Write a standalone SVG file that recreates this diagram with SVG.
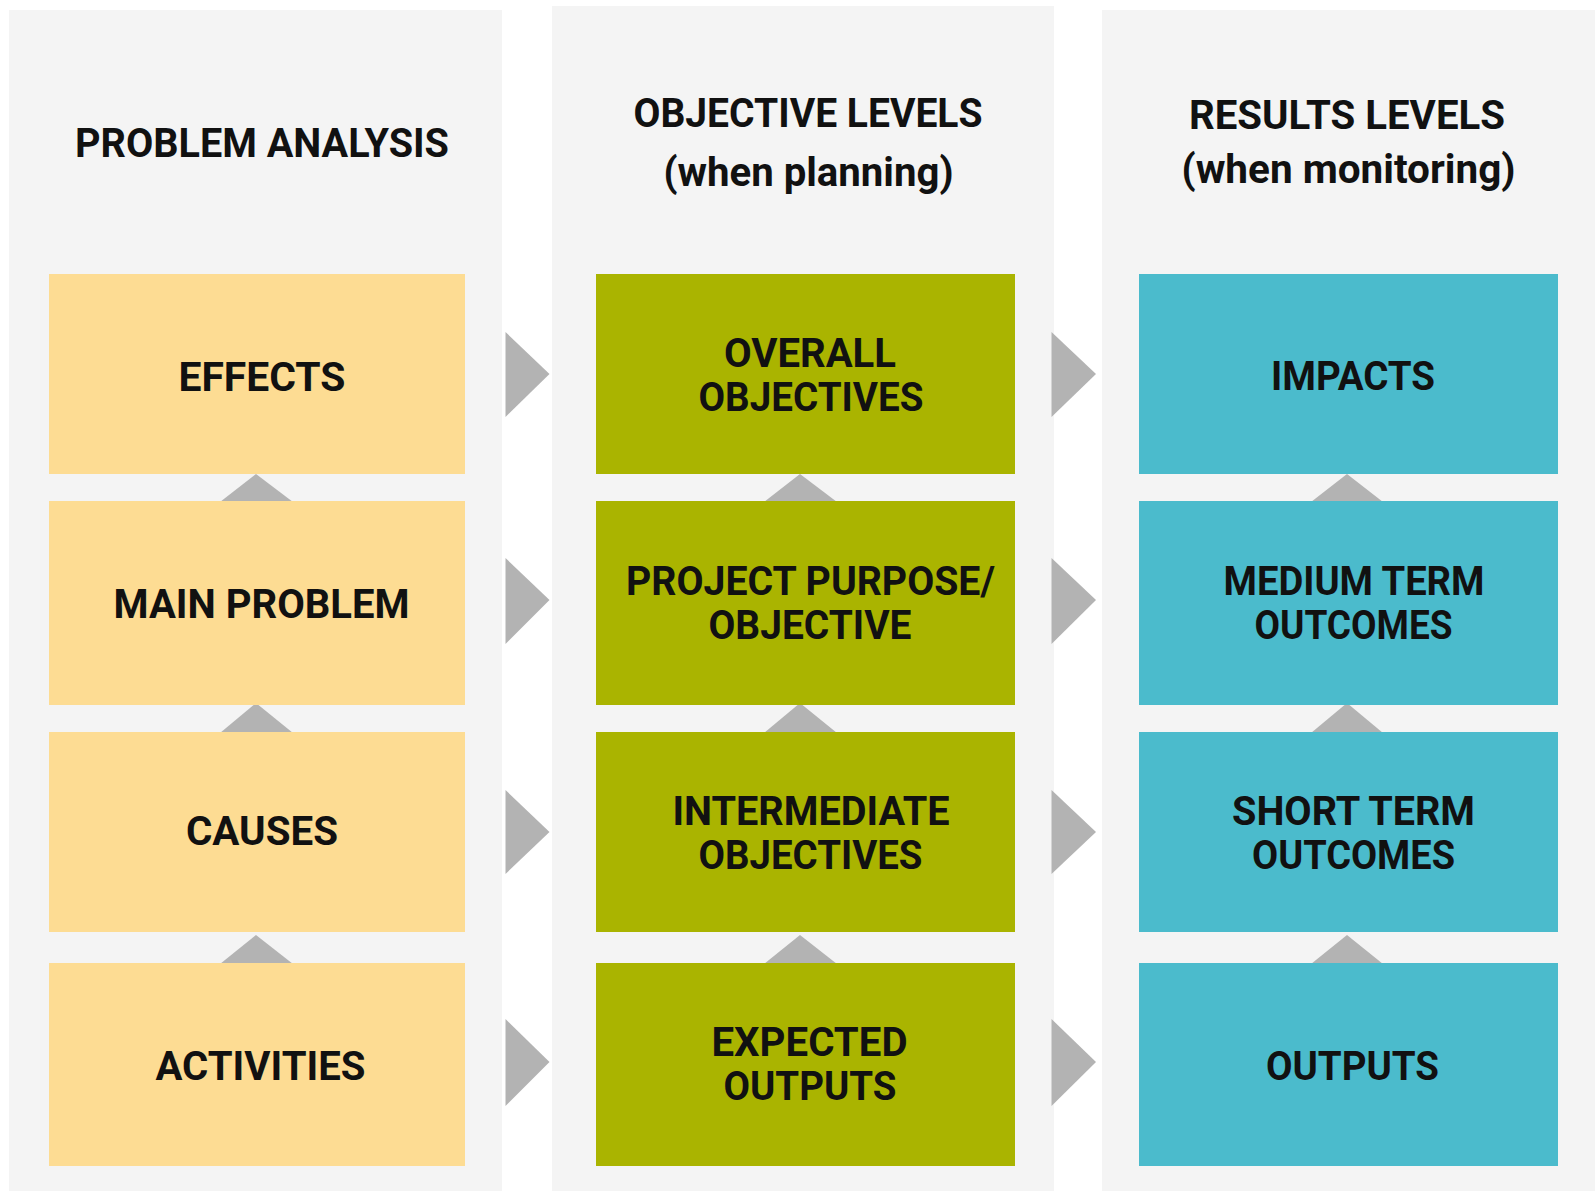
<svg xmlns="http://www.w3.org/2000/svg" width="1595" height="1191" viewBox="0 0 1595 1191">
<style>
.panel{fill:#f4f4f4}
.y{fill:#fddc93}
.g{fill:#aab400}
.c{fill:#4bbbcc}
.arr{fill:#b3b3b3}
text{font-family:Roboto,"Liberation Sans",sans-serif;font-weight:700;font-size:41px;fill:#111;text-anchor:middle}
</style>
<rect width="1595" height="1191" fill="#ffffff"/>
<g id="panels">
<rect class="panel" x="9" y="10" width="493" height="1181"/>
<rect class="panel" x="552" y="6" width="502" height="1185"/>
<rect class="panel" x="1102" y="10" width="493" height="1181"/>
</g>
<g id="headers">
<text x="262" y="157" textLength="374" lengthAdjust="spacingAndGlyphs">PROBLEM ANALYSIS</text>
<text x="808" y="127" textLength="349" lengthAdjust="spacingAndGlyphs">OBJECTIVE LEVELS</text>
<text x="808.5" y="186" textLength="290" lengthAdjust="spacingAndGlyphs">(when planning)</text>
<text x="1347" y="129" textLength="316" lengthAdjust="spacingAndGlyphs">RESULTS LEVELS</text>
<text x="1348.5" y="183" textLength="334" lengthAdjust="spacingAndGlyphs">(when monitoring)</text>
</g>
<g id="connectors">
<polygon class="arr" points="505.5,332 549.5,374 505.5,417"/>
<polygon class="arr" points="505.5,558 549.5,600 505.5,644"/>
<polygon class="arr" points="505.5,790 549.5,832 505.5,874"/>
<polygon class="arr" points="505.5,1019 549.5,1062 505.5,1106"/>
<polygon class="arr" points="1051.5,332 1096,374 1051.5,417"/>
<polygon class="arr" points="1051.5,558 1096,600 1051.5,644"/>
<polygon class="arr" points="1051.5,790 1096,832 1051.5,874"/>
<polygon class="arr" points="1051.5,1019 1096,1062 1051.5,1106"/>
<polygon class="arr" points="220,502 256,474 293,502"/>
<polygon class="arr" points="220,733 256,703 293,733"/>
<polygon class="arr" points="220,964 256,935 293,964"/>
<polygon class="arr" points="764,502 800,474 837,502"/>
<polygon class="arr" points="764,733 800,703 837,733"/>
<polygon class="arr" points="764,964 800,935 837,964"/>
<polygon class="arr" points="1311,502 1347,474 1383,502"/>
<polygon class="arr" points="1311,733 1347,703 1383,733"/>
<polygon class="arr" points="1311,964 1347,935 1383,964"/>
</g>
<g id="effects"><rect class="y" x="49" y="274" width="416" height="200"/><text x="262" y="390.5" textLength="167" lengthAdjust="spacingAndGlyphs">EFFECTS</text></g>
<g id="main-problem"><rect class="y" x="49" y="501" width="416" height="204"/><text x="261.5" y="617.5" textLength="296" lengthAdjust="spacingAndGlyphs">MAIN PROBLEM</text></g>
<g id="causes"><rect class="y" x="49" y="732" width="416" height="200"/><text x="262" y="845" textLength="152" lengthAdjust="spacingAndGlyphs">CAUSES</text></g>
<g id="activities"><rect class="y" x="49" y="963" width="416" height="203"/><text x="260.5" y="1080" textLength="210" lengthAdjust="spacingAndGlyphs">ACTIVITIES</text></g>
<g id="overall-objectives"><rect class="g" x="596" y="274" width="419" height="200"/><text x="810" y="366.5" textLength="172" lengthAdjust="spacingAndGlyphs">OVERALL</text><text x="811" y="410.5" textLength="225" lengthAdjust="spacingAndGlyphs">OBJECTIVES</text></g>
<g id="project-purpose"><rect class="g" x="596" y="501" width="419" height="204"/><text x="810.5" y="594.5" textLength="369" lengthAdjust="spacingAndGlyphs">PROJECT PURPOSE/</text><text x="810" y="638.5" textLength="203" lengthAdjust="spacingAndGlyphs">OBJECTIVE</text></g>
<g id="intermediate-objectives"><rect class="g" x="596" y="732" width="419" height="200"/><text x="811" y="825" textLength="277" lengthAdjust="spacingAndGlyphs">INTERMEDIATE</text><text x="810.5" y="869" textLength="224" lengthAdjust="spacingAndGlyphs">OBJECTIVES</text></g>
<g id="expected-outputs"><rect class="g" x="596" y="963" width="419" height="203"/><text x="809.5" y="1055.5" textLength="196" lengthAdjust="spacingAndGlyphs">EXPECTED</text><text x="810" y="1100" textLength="173" lengthAdjust="spacingAndGlyphs">OUTPUTS</text></g>
<g id="impacts"><rect class="c" x="1139" y="274" width="419" height="200"/><text x="1353" y="390" textLength="164" lengthAdjust="spacingAndGlyphs">IMPACTS</text></g>
<g id="medium-term-outcomes"><rect class="c" x="1139" y="501" width="419" height="204"/><text x="1354" y="594.5" textLength="261" lengthAdjust="spacingAndGlyphs">MEDIUM TERM</text><text x="1353.5" y="638.5" textLength="198" lengthAdjust="spacingAndGlyphs">OUTCOMES</text></g>
<g id="short-term-outcomes"><rect class="c" x="1139" y="732" width="419" height="200"/><text x="1353.5" y="825" textLength="243" lengthAdjust="spacingAndGlyphs">SHORT TERM</text><text x="1353.5" y="869" textLength="203" lengthAdjust="spacingAndGlyphs">OUTCOMES</text></g>
<g id="outputs"><rect class="c" x="1139" y="963" width="419" height="203"/><text x="1352.5" y="1079.5" textLength="173" lengthAdjust="spacingAndGlyphs">OUTPUTS</text></g>
</svg>
